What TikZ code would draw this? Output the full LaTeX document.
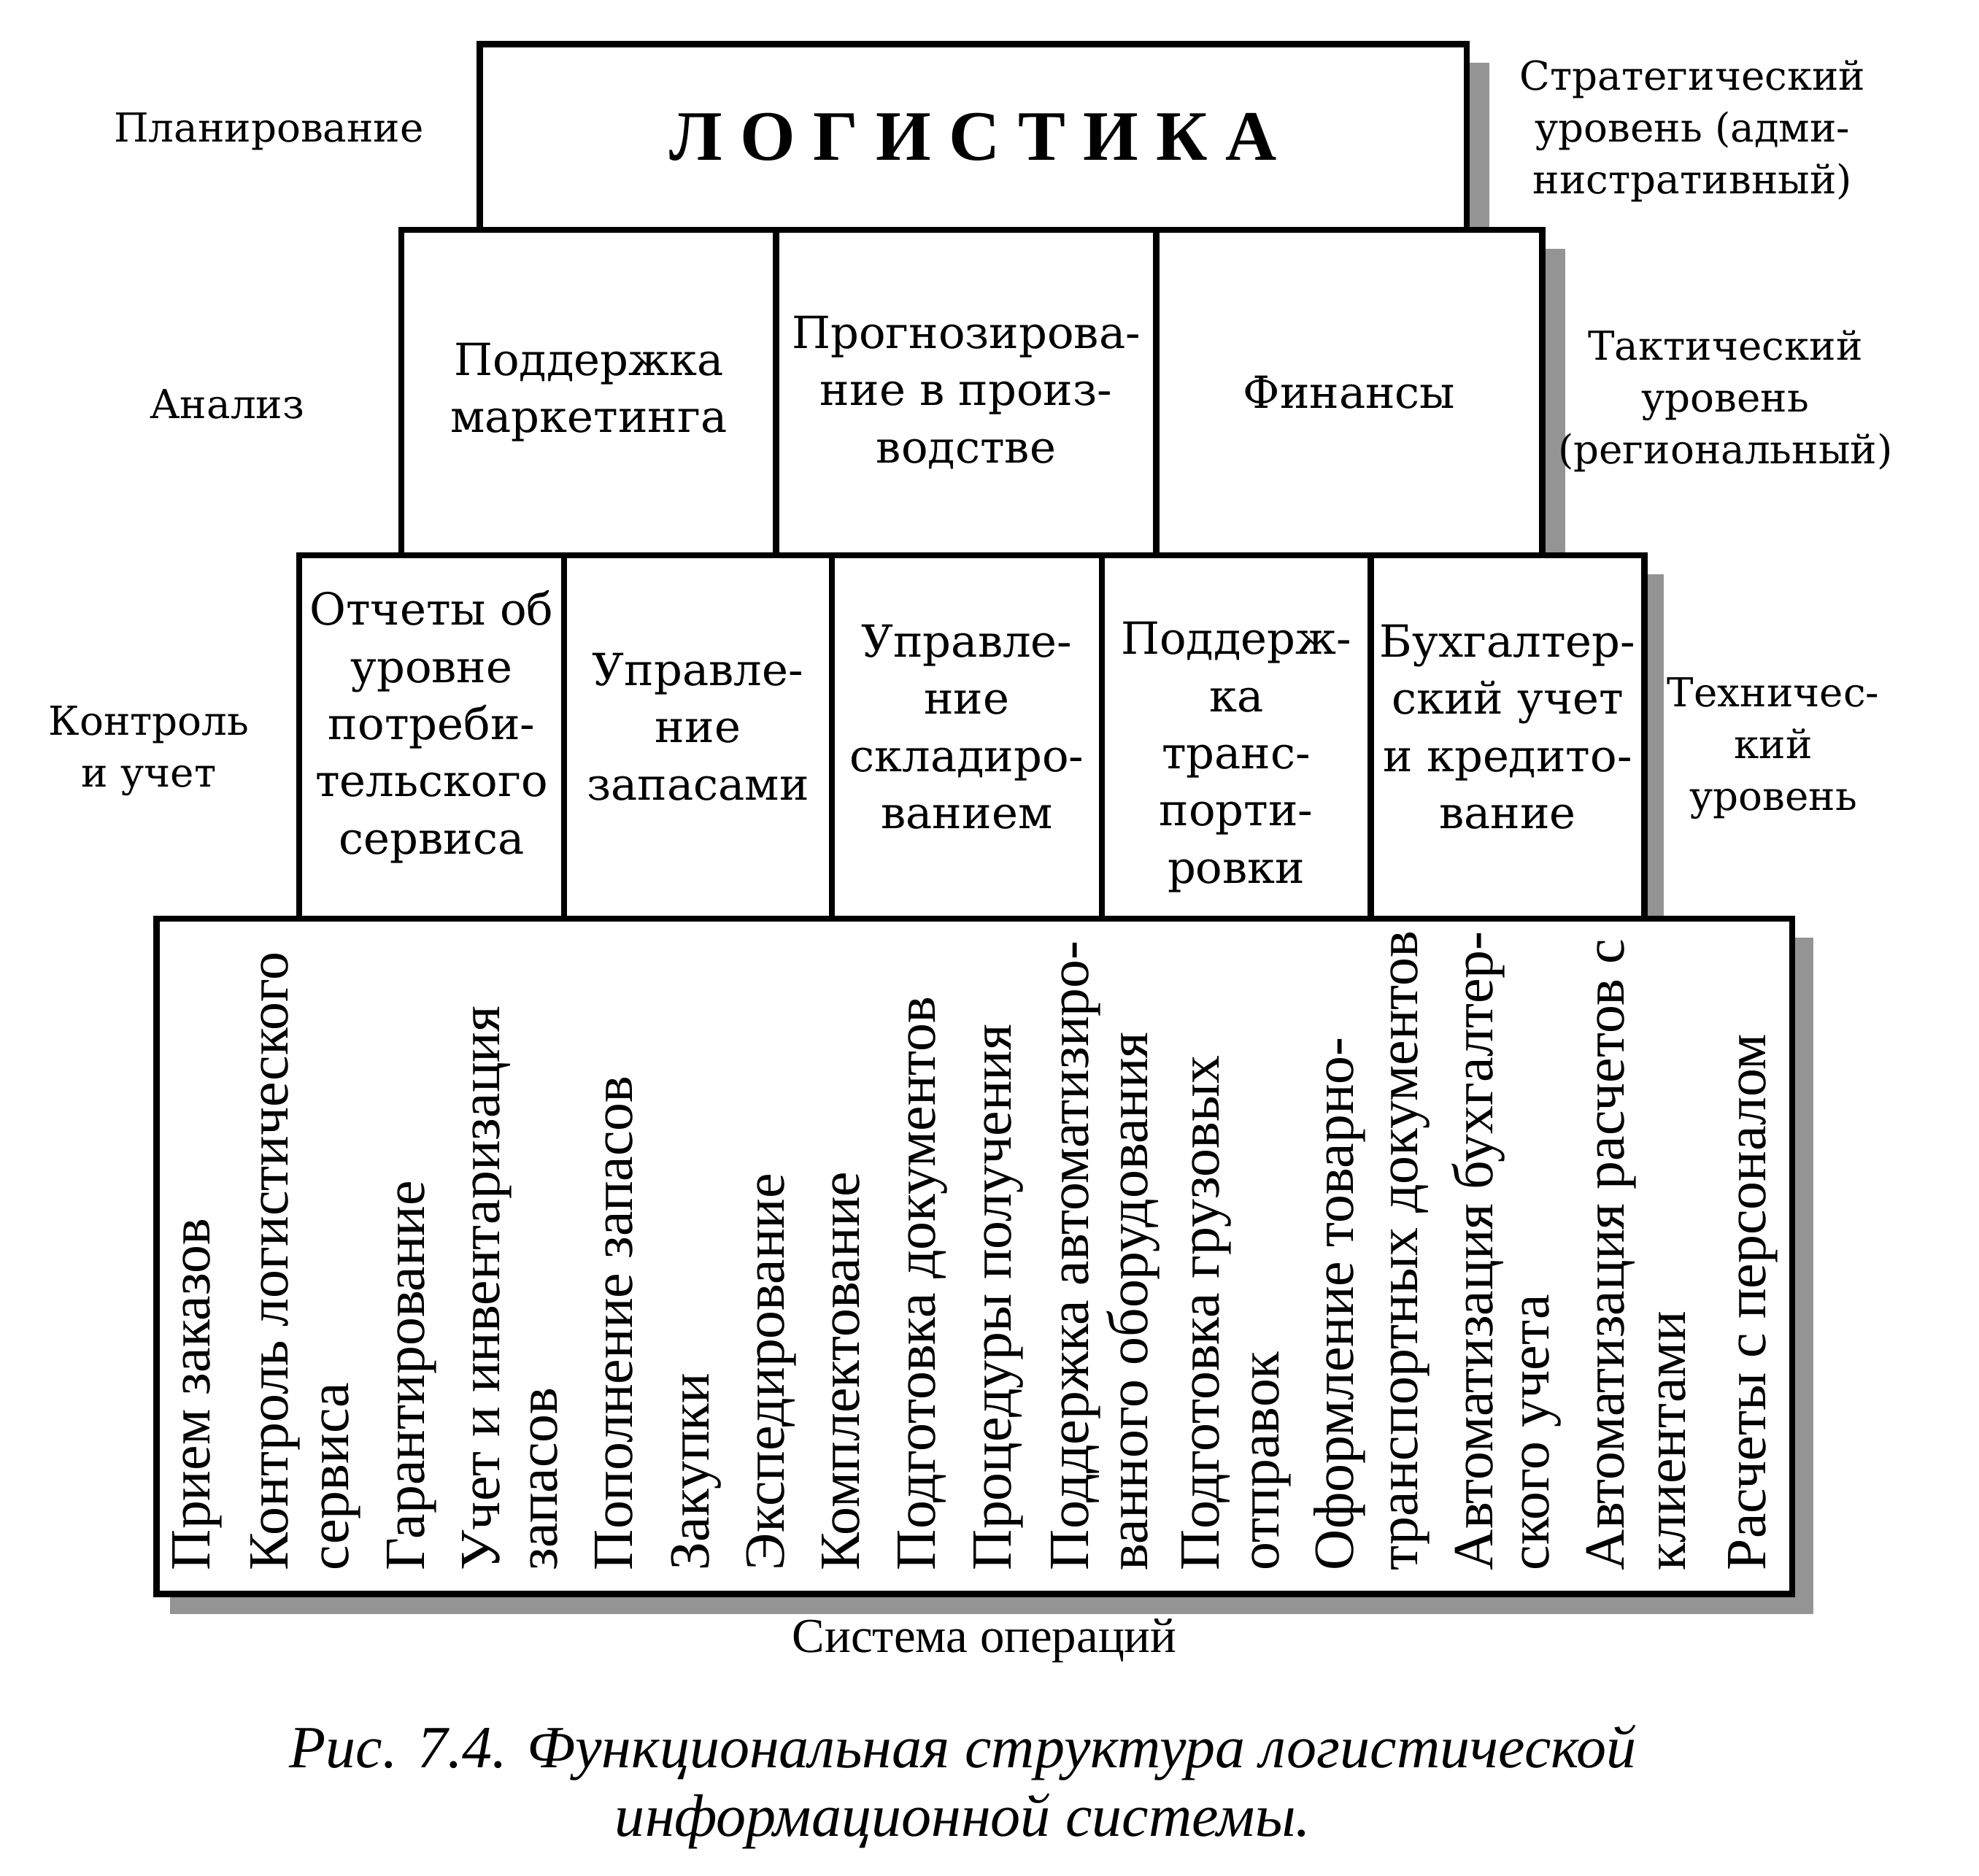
\documentclass[tikz,border=0pt]{standalone}
\usepackage{fontspec}
\setmainfont{Liberation Serif}
\newfontfamily\boxfont{DejaVu Serif}
\tikzset{
  cell/.style={draw, line width=1.4pt, inner sep=0pt, align=center, fill=white,
    font=\boxfont\fontsize{10}{12.9}\selectfont},
  celltext/.style={align=center, inner sep=0pt, font=\boxfont\fontsize{10}{12.9}\selectfont},
  level/.style={align=center, inner sep=0pt, font=\boxfont\fontsize{9}{11.7}\selectfont},
  optext/.style={rotate=90, anchor=base west, inner sep=0pt, font=\fontsize{12.8}{15}\selectfont},
  shadow/.style={fill=black!42}
}
\begin{document}
\begin{tikzpicture}[x=0.1mm, y=-0.1mm]
\useasboundingbox (0,0) rectangle (1568,1486);
% shadows
\fill[shadow] (1162,50) rectangle (1180,182);
\fill[shadow] (1222,197) rectangle (1240,440);
\fill[shadow] (1303,455) rectangle (1318,728);
\fill[shadow] (1420,743) rectangle (1437,1279);
\fill[shadow] (135,1263) rectangle (1437,1279);
% strategic level
\node[cell, minimum width=78.2mm, minimum height=14.7mm,
  font=\bfseries\fontsize{16}{19}\selectfont] (logist) at (771,108.5) {Л О Г И С Т И К А};
% tactical level
\node[cell, minimum width=29.7mm, minimum height=25.8mm] (market) at (466.5,311) {Поддержка\\маркетинга};
\node[cell, minimum width=30.1mm, minimum height=25.8mm] (forecast) at (765.5,311) {Прогнозирова-\\ние в произ-\\водстве};
\node[cell, minimum width=30.6mm, minimum height=25.8mm] (finance) at (1069,311) {Финансы};
% technical level
\node[cell, minimum width=21.0mm, minimum height=28.8mm] (report) at (342,584) {};
\node[cell, minimum width=21.2mm, minimum height=28.8mm] (stock) at (553,584) {};
\node[cell, minimum width=21.4mm, minimum height=28.8mm] (store) at (766,584) {};
\node[cell, minimum width=21.3mm, minimum height=28.8mm] (transp) at (979.5,584) {};
\node[cell, minimum width=21.7mm, minimum height=28.8mm] (account) at (1194.5,584) {};
\node[celltext] (reportt) at (342,576) {Отчеты об\\уровне\\потреби-\\тельского\\сервиса};
\node[celltext] (stockt) at (553,576) {Управле-\\ние\\запасами};
\node[celltext] (storet) at (766,576) {Управле-\\ние\\складиро-\\ванием};
\node[celltext] (transpt) at (979.5,600) {Поддерж-\\ка\\транс-\\порти-\\ровки};
\node[celltext] (accountt) at (1194.5,576) {Бухгалтер-\\ский учет\\и кредито-\\вание};
% operations
\node[cell, minimum width=129.6mm, minimum height=53.5mm] (ops) at (772,995.5) {};
\foreach \x/\t [count=\i] in {166/Прием заказов, 228/Контроль логистического, 276/сервиса,
  336/Гарантирование, 396/Учет и инвентаризация, 441.5/запасов, 501/Пополнение запасов,
  561.5/Закупки, 621/Экспедирование, 681/Комплектование, 741/Подготовка документов,
  801/Процедуры получения, 862.5/Поддержка автоматизиро-, 909/ванного оборудования,
  966/Подготовка грузовых, 1013/отправок, 1072/Оформление товарно-,
  1123/транспортных документов, 1182.5/Автоматизация бухгалтер-, 1227/ского учета,
  1286.5/Автоматизация расчетов с, 1335/клиентами, 1399/Расчеты с персоналом}
  \node[optext] (op\i) at (\x,1245) {\t};
% side labels
\node[level] (plan) at (213,104) {Планирование};
\node[level] (anal) at (180,320) {Анализ};
\node[level] (contr) at (118,595) {Контроль\\и учет};
\node[level] (strat) at (1341,104) {Стратегический\\уровень (адми-\\нистративный)};
\node[level] (tact) at (1367,318) {Тактический\\уровень\\(региональный)};
\node[level] (tech) at (1405,593) {Техничес-\\кий\\уровень};
\node[font=\fontsize{11}{13}\selectfont] (opsys) at (780,1300) {Система операций};
% caption
\node[align=center, font=\itshape\fontsize{13.5}{15.6}\selectfont] (caption) at (763,1416)
  {Рис. 7.4. Функциональная структура логистической\\информационной системы.};
\end{tikzpicture}
\end{document}
